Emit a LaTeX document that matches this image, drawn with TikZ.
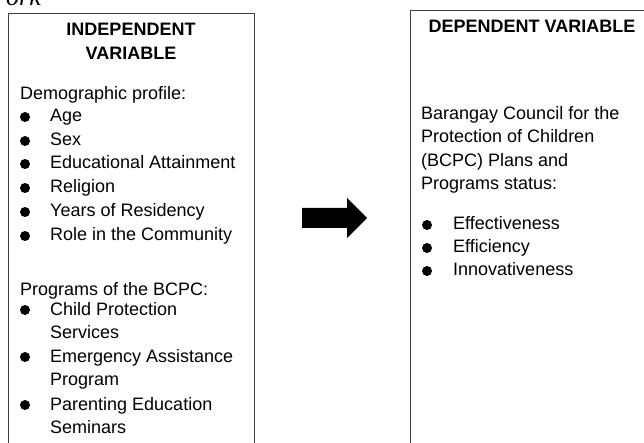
\documentclass[tikz,border=0pt]{standalone}
\usepackage{fontspec}
\setmainfont{Liberation Sans}
\newfontfamily\serifit{Liberation Serif}

\tikzstyle{box} = [rectangle, draw=black!75, line width=1pt, minimum width=246pt, minimum height=470pt, anchor=north west, inner sep=0pt]
\tikzstyle{head} = [anchor=base, inner sep=0pt, font=\bfseries\fontsize{18}{22}\selectfont]
\tikzstyle{txt} = [anchor=base west, inner sep=0pt, font=\fontsize{18}{23}\selectfont]
\tikzstyle{dot} = [circle, fill=black, inner sep=0pt, minimum size=10pt]

\begin{document}
\begin{tikzpicture}[x=1pt, y=-1pt]
  \path [use as bounding box, clip] (0,0) rectangle (644,443);

  % cut-off caption above
  \node (Caption) [anchor=base east, inner sep=0pt, font=\serifit\itshape\fontsize{26}{26}\selectfont] at (41,6) {ork};

  % boxes
  \node (Independent) [box] at (8,13) {};
  \node (Dependent) [box] at (410,10) {};

  % independent variable
  \node (Indep Title) [head] at (131,36) {INDEPENDENT};
  \node (Indep Title2) [head] at (131,60) {VARIABLE};
  \node (Demographic) [txt] at (20,100) {Demographic profile:};
  \node (Age Dot) [dot] at (25,117) {};
  \node (Age) [txt] at (50,122) {Age};
  \node (Sex Dot) [dot] at (25,141) {};
  \node (Sex) [txt] at (50,146) {Sex};
  \node (Education Dot) [dot] at (25,164) {};
  \node (Education) [txt] at (50,169) {Educational Attainment};
  \node (Religion Dot) [dot] at (25,188) {};
  \node (Religion) [txt] at (50,193) {Religion};
  \node (Residency Dot) [dot] at (25,212) {};
  \node (Residency) [txt] at (50,217) {Years of Residency};
  \node (Role Dot) [dot] at (25,236) {};
  \node (Role) [txt] at (50,241) {Role in the Community};
  \node (Programs) [txt] at (20,295) {Programs of the BCPC:};
  \node (Child Dot) [dot] at (25,310) {};
  \node (Child) [txt] at (50,315) {Child Protection};
  \node (Child2) [txt] at (50,338) {Services};
  \node (Emergency Dot) [dot] at (25,357) {};
  \node (Emergency) [txt] at (50,362) {Emergency Assistance};
  \node (Emergency2) [txt] at (50,385) {Program};
  \node (Parenting Dot) [dot] at (25,405) {};
  \node (Parenting) [txt] at (50,410) {Parenting Education};
  \node (Parenting2) [txt] at (50,433) {Seminars};

  % dependent variable
  \node (Dep Title) [head] at (532,33) {DEPENDENT VARIABLE};
  \node (Council) [txt] at (421,120) {Barangay Council for the};
  \node (Council2) [txt] at (421,143) {Protection of Children};
  \node (Council3) [txt] at (421,167) {(BCPC) Plans and};
  \node (Council4) [txt] at (421,190) {Programs status:};
  \node (Effectiveness Dot) [dot] at (427,225) {};
  \node (Effectiveness) [txt] at (453,230) {Effectiveness};
  \node (Efficiency Dot) [dot] at (427,248) {};
  \node (Efficiency) [txt] at (453,253) {Efficiency};
  \node (Innovativeness Dot) [dot] at (427,271) {};
  \node (Innovativeness) [txt] at (453,276) {Innovativeness};

  % block arrow between the boxes
  \coordinate (Arrow) at (302,208);
  \fill [black] (Arrow) -- ++(45,0) -- ++(0,-10) -- ++(20,20) -- ++(-20,20) -- ++(0,-10) -- ++(-45,0) -- cycle;
\end{tikzpicture}
\end{document}
